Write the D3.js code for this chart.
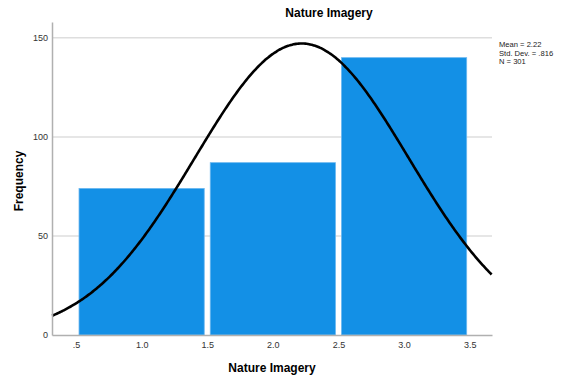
<!DOCTYPE html>
<html>
<head>
<meta charset="utf-8">
<script src="https://cdn.jsdelivr.net/npm/d3@7"></script>
<style>
  body { margin: 0; background: #fff; }
  text { font-family: Arial, "Liberation Sans", sans-serif; }
</style>
</head>
<body>
<div id="graph"></div>
<script>
// Histogram data
const binStarts = [0.5, 1.5, 2.5];
const binEnds = [1.5, 2.5, 3.5];
const frequencies = [74, 87, 140];
const xTickValues = [0.5, 1.0, 1.5, 2.0, 2.5, 3.0, 3.5];
const xTickLabels = ['.5', '1.0', '1.5', '2.0', '2.5', '3.0', '3.5'];
const yTickValues = [0, 50, 100, 150];
const statsLines = ['Mean = 2.22', 'Std. Dev. = .816', 'N = 301'];
const mean = 2.22, sd = 0.816, n = 301, binWidth = 1;

const width = 565, height = 378;
const margin = { top: 22, right: 73, bottom: 43, left: 52 };

const svg = d3.select('#graph').append('svg')
    .attr('width', width)
    .attr('height', height);

const x = d3.scaleLinear()
    .domain([0.317, 3.67])
    .range([margin.left, width - margin.right]);

const y = d3.scaleLinear()
    .domain([0, 158])
    .range([height - margin.bottom, margin.top]);

// Gridlines
svg.append('g')
    .selectAll('line')
    .data(yTickValues.filter(d => d > 0))
    .enter().append('line')
    .attr('x1', margin.left)
    .attr('x2', width - margin.right)
    .attr('y1', d => y(d))
    .attr('y2', d => y(d))
    .attr('stroke', '#dedede')
    .attr('stroke-width', 1.5);

// Bars
svg.selectAll('.bar')
    .data(frequencies)
    .enter().append('rect')
    .attr('class', 'bar')
    .attr('x', (d, i) => x(binStarts[i]) + 3)
    .attr('y', d => y(d))
    .attr('width', (d, i) => x(binEnds[i]) - x(binStarts[i]) - 6)
    .attr('height', d => y(0) - y(d))
    .attr('fill', '#1390e6')
    .attr('stroke', '#6cb8f0')
    .attr('stroke-width', 0.8);

// Normal curve
const xs = d3.range(0.317, 3.6701, 0.01);
const normal = v => n * binWidth * Math.exp(-0.5 * ((v - mean) / sd) ** 2) / (sd * Math.sqrt(2 * Math.PI));
svg.append('path')
    .datum(xs)
    .attr('fill', 'none')
    .attr('stroke', '#000')
    .attr('stroke-width', 2.6)
    .attr('d', d3.line().x(d => x(d)).y(d => y(normal(d))).curve(d3.curveBasis));

// Axes
const xAxis = svg.append('g')
    .attr('transform', `translate(0, ${y(0)})`)
    .call(d3.axisBottom(x).tickValues(xTickValues).tickFormat((d, i) => xTickLabels[i]).tickSize(0).tickPadding(7));
xAxis.select('.domain').attr('stroke', '#b0b0b0').attr('stroke-width', 1.5);
xAxis.selectAll('text').attr('font-size', 9).attr('fill', '#333');

const yAxis = svg.append('g')
    .attr('transform', `translate(${margin.left}, 0)`)
    .call(d3.axisLeft(y).tickValues(yTickValues).tickSize(0).tickPadding(4));
yAxis.select('.domain').attr('stroke', '#b0b0b0').attr('stroke-width', 1.5);
yAxis.selectAll('text').attr('font-size', 9).attr('fill', '#333');

// Title and axis labels
svg.append('text')
    .attr('x', 329).attr('y', 17)
    .attr('text-anchor', 'middle')
    .attr('font-size', 12).attr('font-weight', 'bold')
    .text('Nature Imagery');

svg.append('text')
    .attr('x', (margin.left + width - margin.right) / 2).attr('y', 372)
    .attr('text-anchor', 'middle')
    .attr('font-size', 12).attr('font-weight', 'bold')
    .text('Nature Imagery');

svg.append('text')
    .attr('transform', 'translate(23, 181) rotate(-90)')
    .attr('text-anchor', 'middle')
    .attr('font-size', 12).attr('font-weight', 'bold')
    .text('Frequency');

// Stats legend
svg.append('g')
    .selectAll('text')
    .data(statsLines)
    .enter().append('text')
    .attr('x', 499)
    .attr('y', (d, i) => 47 + i * 8.7)
    .attr('font-size', 7.6)
    .attr('fill', '#222')
    .text(d => d);
</script>
</body>
</html>
